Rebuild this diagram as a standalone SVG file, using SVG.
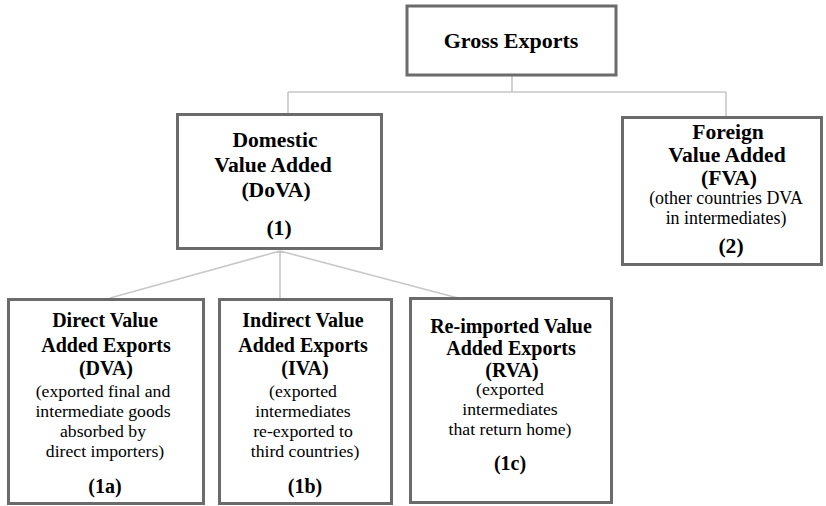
<svg xmlns="http://www.w3.org/2000/svg" width="826" height="506" viewBox="0 0 826 506">
<style>
.box{fill:#fff;stroke:#6b6b6b;stroke-width:3}
.con{fill:none;stroke:#c8c8c8;stroke-width:1.6}
text{font-family:"Liberation Serif","Times New Roman",serif;fill:#000;text-anchor:middle}
.b{font-weight:bold;font-size:20px}
.bt{font-weight:bold;font-size:21.6px}
.r{font-size:17.7px}
.rt{font-size:17.9px}
</style>
<rect width="826" height="506" fill="#fff"/>
<g id="connectors">
<path class="con" d="M512 76V92M288 92H726M288 92V113M726 92V116"/>
<path class="con" d="M280 251L110 298M280 251V298M280 251L458 298"/>
</g>
<g id="gross">
<rect class="box" x="407" y="6" width="209" height="69"/>
<text class="bt" x="511" y="48" style="font-size:22px">Gross Exports</text>
</g>
<g id="dova">
<rect class="box" x="177.5" y="114.5" width="204" height="134"/>
<text class="bt" x="275" y="147">Domestic</text>
<text class="bt" x="273" y="172">Value Added</text>
<text class="bt" x="276" y="197">(DoVA)</text>
<text class="bt" x="279" y="235">(1)</text>
</g>
<g id="fva">
<rect class="box" x="622.5" y="117.5" width="199" height="147"/>
<text class="bt" x="728" y="139">Foreign</text>
<text class="bt" x="727" y="162">Value Added</text>
<text class="bt" x="729" y="185">(FVA)</text>
<text class="rt" x="726" y="204">(other countries DVA</text>
<text class="rt" x="726" y="223.5">in intermediates)</text>
<text class="bt" x="731" y="253">(2)</text>
</g>
<g id="dva">
<rect class="box" x="8.5" y="299.5" width="195" height="204"/>
<text class="b" x="105" y="327">Direct Value</text>
<text class="b" x="106" y="352">Added Exports</text>
<text class="b" x="106" y="375">(DVA)</text>
<text class="r" x="103" y="397">(exported final and</text>
<text class="r" x="103" y="417">intermediate goods</text>
<text class="r" x="103" y="437">absorbed by</text>
<text class="r" x="105" y="457">direct importers)</text>
<text class="b" x="105" y="493">(1a)</text>
</g>
<g id="iva">
<rect class="box" x="219.5" y="299.5" width="172" height="204"/>
<text class="b" x="303" y="327">Indirect Value</text>
<text class="b" x="303" y="352">Added Exports</text>
<text class="b" x="305" y="375">(IVA)</text>
<text class="r" x="303" y="397">(exported</text>
<text class="r" x="303" y="417">intermediates</text>
<text class="r" x="303" y="437">re-exported to</text>
<text class="r" x="305" y="457">third countries)</text>
<text class="b" x="305" y="493">(1b)</text>
</g>
<g id="rva">
<rect class="box" x="410.5" y="298.5" width="201" height="204"/>
<text class="b" x="511" y="333">Re-imported Value</text>
<text class="b" x="511" y="355">Added Exports</text>
<text class="b" x="512" y="377">(RVA)</text>
<text class="r" x="510" y="395">(exported</text>
<text class="r" x="510" y="415">intermediates</text>
<text class="r" x="510" y="435">that return home)</text>
<text class="b" x="510" y="470">(1c)</text>
</g>
</svg>
